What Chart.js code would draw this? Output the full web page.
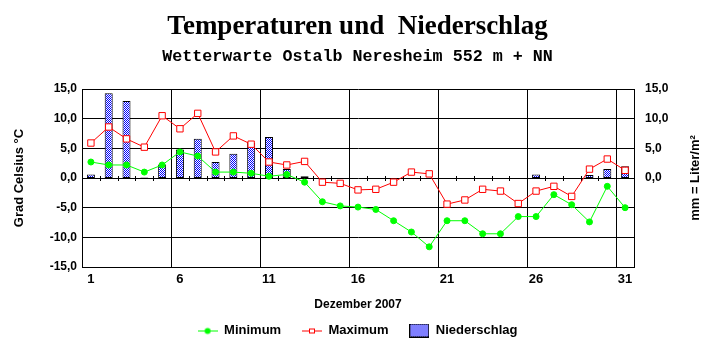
<!DOCTYPE html>
<html>
<head>
<meta charset="utf-8">
<script src="https://cdn.jsdelivr.net/npm/chart.js@4.4.0/dist/chart.umd.min.js"></script>
<style>
  html, body { margin: 0; padding: 0; background: #fff; }
  canvas { display: block; }
</style>
</head>
<body>
<canvas id="wetter" width="715" height="352"></canvas>
<script>
// Dezember 2007, Wetterwarte Ostalb Neresheim
const days = ['1','2','3','4','5','6','7','8','9','10','11','12','13','14','15','16',
  '17','18','19','20','21','22','23','24','25','26','27','28','29','30','31'];
const minimum = [2.7, 2.2, 2.2, 1.0, 2.2, 4.4, 3.7, 1.0, 1.0, 0.8, 0.3, 0.6, -0.7, -4.0, -4.7, -4.9,
  -5.3, -7.2, -9.1, -11.6, -7.2, -7.2, -9.4, -9.4, -6.5, -6.5, -2.8, -4.5, -7.4, -1.4, -5.0];
const maximum = [5.9, 8.6, 6.6, 5.2, 10.5, 8.3, 10.9, 4.4, 7.1, 5.7, 2.7, 2.2, 2.8, -0.7, -0.9, -2.0,
  -1.9, -0.7, 1.0, 0.7, -4.4, -3.7, -1.9, -2.2, -4.3, -2.2, -1.4, -3.1, 1.5, 3.2, 1.3];
const niederschlag = [0.6, 14.3, 13.0, 0.1, 2.3, 4.8, 6.6, 2.7, 4.1, 5.9, 6.9, 1.5, 0.3, 0, 0, 0,
  0, 0, 0, 0, 0, 0, 0, 0, 0, 0.6, 0, 0, 0.5, 1.5, 2.0];
const yTicks = [-15, -10, -5, 0, 5, 10, 15];

const fmt = v => v.toFixed(1).replace('.', ',');

document.addEventListener('DOMContentLoaded', () => {
  const el = document.getElementById('wetter');
  const ctx = el.getContext('2d');

  // dotted blue fill for the precipitation bars
  const pc = document.createElement('canvas');
  pc.width = 2; pc.height = 2;
  const p = pc.getContext('2d');
  p.fillStyle = '#fff'; p.fillRect(0, 0, 2, 2);
  p.fillStyle = '#0000ff'; p.fillRect(0, 0, 1, 1); p.fillRect(1, 1, 1, 1);
  const dots = ctx.createPattern(pc, 'repeat');

  // legend icons: line with marker, hatched box
  function icon(draw) {
    const c = document.createElement('canvas');
    c.width = 20; c.height = 14;
    draw(c.getContext('2d'));
    return c;
  }
  const icons = [
    icon(g => {
      g.strokeStyle = '#00ff00'; g.lineWidth = 1;
      g.beginPath(); g.moveTo(0, 7.5); g.lineTo(20, 7.5); g.stroke();
      g.fillStyle = '#00ff00'; g.beginPath(); g.arc(10, 7.5, 3, 0, Math.PI * 2); g.fill();
    }),
    icon(g => {
      g.strokeStyle = '#ff0000'; g.lineWidth = 1;
      g.beginPath(); g.moveTo(0, 7.5); g.lineTo(20, 7.5); g.stroke();
      g.fillStyle = '#fff'; g.fillRect(7, 5, 6, 5);
      g.strokeRect(7.5, 5.5, 5, 4);
    }),
    icon(g => {
      g.fillStyle = g.createPattern(pc, 'repeat'); g.fillRect(0, 0, 20, 14);
      g.strokeStyle = '#000'; g.lineWidth = 1; g.strokeRect(0.5, 0.5, 19, 13);
    })
  ];

  const zeroTicks = {
    id: 'zeroTicks',
    beforeDatasetsDraw(chart) {
      const xs = chart.scales.x, ys = chart.scales.y;
      const y0 = Math.round(ys.getPixelForValue(0));
      const c = chart.ctx;
      c.save();
      c.strokeStyle = '#000'; c.lineWidth = 1;
      c.beginPath();
      for (let i = 1; i < days.length; i++) {
        const px = Math.round((xs.getPixelForValue(i - 1) + xs.getPixelForValue(i)) / 2) + 0.5;
        c.moveTo(px, y0 - 2); c.lineTo(px, y0 + 3);
      }
      c.stroke();
      c.restore();
    }
  };

  const rightTitle = {
    id: 'rightTitle',
    afterDraw(chart) {
      const c = chart.ctx, a = chart.chartArea;
      c.save();
      c.translate(chart.width - 20, (a.top + a.bottom) / 2);
      c.rotate(-Math.PI / 2);
      c.font = 'bold 13px "Liberation Sans", Arial, sans-serif';
      c.fillStyle = '#000';
      c.textAlign = 'center';
      c.textBaseline = 'middle';
      c.fillText('mm = Liter/m²', 0, 0);
      c.restore();
    }
  };

  Chart.defaults.font.family = '"Liberation Sans", Arial, sans-serif';
  Chart.defaults.font.weight = 'bold';
  Chart.defaults.color = '#000';

  new Chart(el, {
    type: 'bar',
    data: {
      labels: days,
      datasets: [
        {
          type: 'line', label: 'Minimum', data: minimum, order: 0,
          borderColor: '#00ff00', backgroundColor: '#00ff00', borderWidth: 1,
          pointRadius: 3, pointBackgroundColor: '#00ff00', pointBorderColor: '#00ff00',
          tension: 0, yAxisID: 'y'
        },
        {
          type: 'line', label: 'Maximum', data: maximum, order: 0,
          borderColor: '#ff0000', backgroundColor: '#fff', borderWidth: 1,
          pointStyle: 'rect', pointRadius: 4.5, pointBorderWidth: 1,
          pointBackgroundColor: '#fff', pointBorderColor: '#ff0000',
          tension: 0, yAxisID: 'y'
        },
        {
          type: 'bar', label: 'Niederschlag', data: niederschlag, order: 1,
          backgroundColor: dots, borderColor: '#000', borderWidth: 1, borderSkipped: false,
          barPercentage: 0.45, categoryPercentage: 1, yAxisID: 'y1'
        }
      ]
    },
    options: {
      responsive: false,
      animation: false,
      devicePixelRatio: 1,
      layout: { padding: { left: 0, right: 0, top: 0, bottom: 5 } },
      plugins: {
        title: {
          display: true,
          text: 'Temperaturen und  Niederschlag',
          font: { family: '"Liberation Serif", "Times New Roman", serif', size: 27, weight: 'bold', lineHeight: 1.2 },
          color: '#000',
          padding: { top: 11, bottom: 0 }
        },
        subtitle: {
          display: true,
          text: 'Wetterwarte Ostalb Neresheim 552 m + NN',
          font: { family: '"Liberation Mono", "Courier New", monospace', size: 16.7, weight: 'bold', lineHeight: 1.2 },
          color: '#000',
          padding: { top: 3, bottom: 22.6 }
        },
        legend: {
          position: 'bottom',
          labels: {
            usePointStyle: true,
            pointStyleWidth: 20,
            padding: 10,
            font: { size: 13, weight: 'bold' },
            color: '#000',
            generateLabels(chart) {
              const items = Chart.defaults.plugins.legend.labels.generateLabels(chart);
              items.forEach(it => {
                it.pointStyle = icons[it.datasetIndex];
                if (it.datasetIndex < 2) it.text += '   ';
              });
              return items;
            }
          }
        },
        tooltip: { enabled: false }
      },
      scales: {
        x: {
          offset: true,
          grid: {
            offset: true,
            drawTicks: false,
            color: c => (c.index % 5 === 0 ? '#000' : 'rgba(0,0,0,0)'),
            lineWidth: 1
          },
          border: { display: true, color: '#000' },
          ticks: {
            autoSkip: false, maxRotation: 0, padding: 5,
            font: { size: 13, weight: 'bold' },
            callback: (v, i) => (i % 5 === 0 ? days[i] : '')
          },
          title: {
            display: true, text: 'Dezember 2007',
            font: { size: 12, weight: 'bold' },
            padding: { top: 5, bottom: 2 }
          }
        },
        y: {
          position: 'left',
          min: -15, max: 15,
          afterBuildTicks: s => { s.ticks = yTicks.map(v => ({ value: v })); },
          afterFit: s => { s.width = 82; },
          grid: { color: '#000', lineWidth: 1, drawTicks: false },
          border: { display: true, color: '#000' },
          ticks: { padding: 5, font: { size: 12, weight: 'bold' }, callback: v => fmt(v) },
          title: {
            display: true, text: 'Grad Celsius °C',
            font: { size: 13, weight: 'bold' },
            padding: { top: 12, bottom: 0 }
          }
        },
        y1: {
          position: 'right',
          min: -15, max: 15,
          afterBuildTicks: s => { s.ticks = yTicks.map(v => ({ value: v })); },
          afterFit: s => { s.width = 81; },
          grid: { display: false, drawTicks: false },
          border: { display: true, color: '#000' },
          ticks: { padding: 11, font: { size: 12, weight: 'bold' }, callback: v => (v >= 0 ? fmt(v) : '') }
        }
      }
    },
    plugins: [zeroTicks, rightTitle]
  });
});
</script>
</body>
</html>
